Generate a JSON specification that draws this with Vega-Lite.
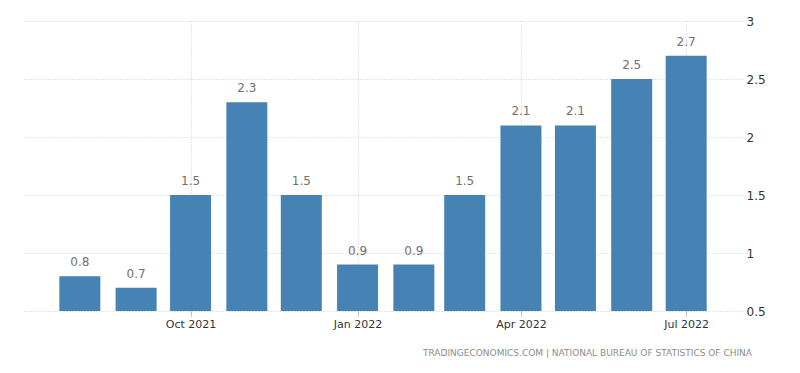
{
  "$schema": "https://vega.github.io/schema/vega-lite/v6.json",
  "width": 718,
  "height": 290,
  "autosize": {"type": "none"},
  "padding": {"left": 24, "top": 21, "right": 58, "bottom": 62},
  "background": "white",
  "config": {
    "view": {"stroke": null},
    "font": "DejaVu Sans"
  },
  "title": {
    "text": "TRADINGECONOMICS.COM  |  NATIONAL BUREAU OF STATISTICS OF CHINA",
    "orient": "bottom",
    "anchor": "end",
    "frame": "group",
    "fontSize": 9,
    "fontWeight": "normal",
    "color": "#8c8c8c",
    "offset": 20,
    "dx": 10
  },
  "data": {
    "values": [
      {"date": "2021-08-01", "value": 0.8},
      {"date": "2021-09-01", "value": 0.7},
      {"date": "2021-10-01", "value": 1.5},
      {"date": "2021-11-01", "value": 2.3},
      {"date": "2021-12-01", "value": 1.5},
      {"date": "2022-01-01", "value": 0.9},
      {"date": "2022-02-01", "value": 0.9},
      {"date": "2022-03-01", "value": 1.5},
      {"date": "2022-04-01", "value": 2.1},
      {"date": "2022-05-01", "value": 2.1},
      {"date": "2022-06-01", "value": 2.5},
      {"date": "2022-07-01", "value": 2.7}
    ]
  },
  "encoding": {
    "x": {
      "field": "date",
      "type": "temporal",
      "scale": {
        "type": "utc",
        "domain": [
          {"year": 2021, "month": 7, "date": 4, "utc": true},
          {"year": 2022, "month": 7, "date": 29, "utc": true}
        ]
      },
      "axis": {
        "title": null,
        "values": [
          {"year": 2021, "month": 10, "date": 1, "utc": true},
          {"year": 2022, "month": 1, "date": 1, "utc": true},
          {"year": 2022, "month": 4, "date": 1, "utc": true},
          {"year": 2022, "month": 7, "date": 1, "utc": true}
        ],
        "format": "%b %Y",
        "domain": false,
        "grid": true,
        "gridColor": "#cccccc",
        "gridDash": [1, 2],
        "gridWidth": 1,
        "ticks": true,
        "tickSize": 5,
        "tickColor": "#bbbbbb",
        "labelFontSize": 11,
        "labelColor": "#333333",
        "labelPadding": 2
      }
    },
    "y": {
      "field": "value",
      "type": "quantitative",
      "scale": {"domain": [0.5, 3], "zero": false, "nice": false},
      "axis": {
        "title": null,
        "orient": "right",
        "values": [0.5, 1, 1.5, 2, 2.5, 3],
        "format": "~g",
        "domain": false,
        "ticks": false,
        "grid": true,
        "gridColor": "#cccccc",
        "gridDash": [1, 2],
        "labelFontSize": 12,
        "labelColor": "#333333",
        "labelPadding": 4
      }
    }
  },
  "layer": [
    {
      "mark": {"type": "bar", "color": "#4682b4", "width": 41},
      "encoding": {"y2": {"datum": 0.5}}
    },
    {
      "mark": {"type": "text", "baseline": "bottom", "dy": -7, "fontSize": 12, "color": "#707070"},
      "encoding": {"text": {"field": "value", "type": "quantitative", "format": ".1f"}}
    }
  ]
}
